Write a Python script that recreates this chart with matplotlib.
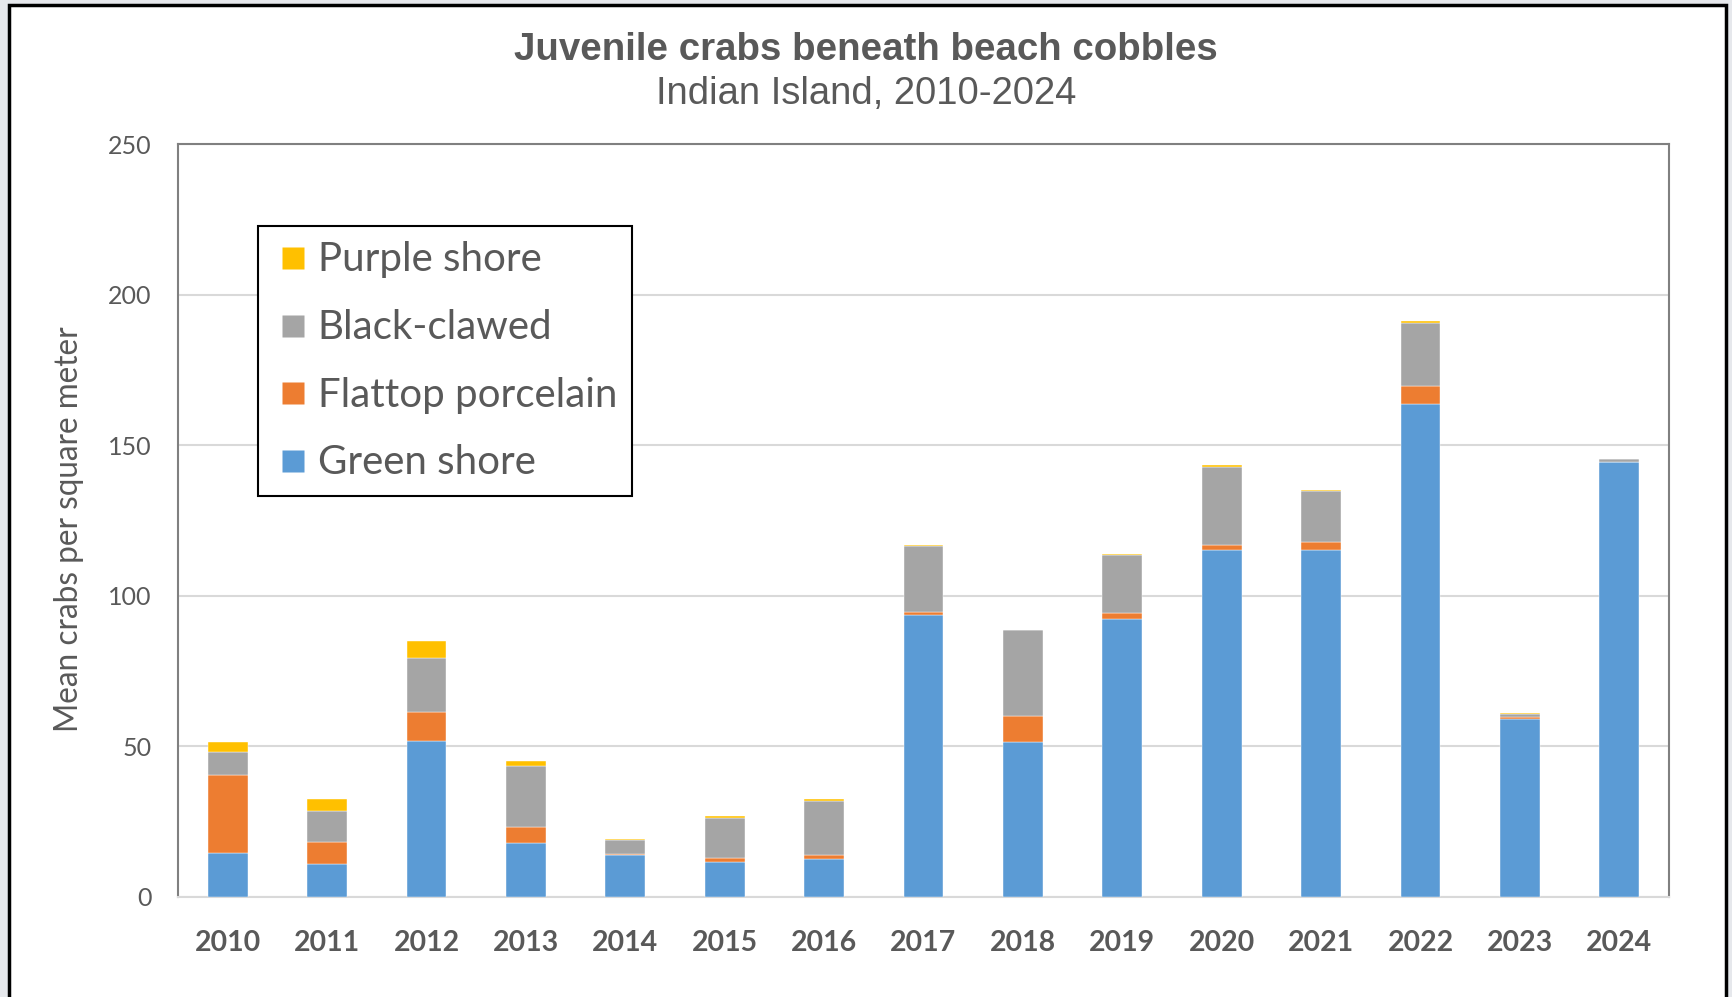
import matplotlib
matplotlib.use("Agg")
import matplotlib.pyplot as plt
from matplotlib.patches import Rectangle
from matplotlib.lines import Line2D
import numpy as np

years = ["2010", "2011", "2012", "2013", "2014", "2015", "2016", "2017",
         "2018", "2019", "2020", "2021", "2022", "2023", "2024"]
green_shore = [14.5, 11.0, 51.8, 18.0, 14.0, 11.7, 12.7, 93.5, 51.3, 92.3, 115.3, 115.3, 163.7, 59.2, 144.3]
flattop_porcelain = [26.0, 7.3, 9.7, 5.4, 0.4, 1.2, 1.3, 1.2, 8.8, 2.1, 1.7, 2.4, 6.0, 0.7, 0.1]
black_clawed = [7.5, 10.2, 18.0, 20.2, 4.4, 13.2, 17.9, 21.7, 28.4, 19.0, 25.9, 17.1, 20.9, 1.0, 0.9]
purple_shore = [3.3, 4.2, 5.4, 1.5, 0.6, 0.8, 0.5, 0.5, 0.3, 0.4, 0.4, 0.3, 0.7, 0.1, 0.1]

series = [("Green shore", green_shore, "#5B9BD5"),
          ("Flattop porcelain", flattop_porcelain, "#ED7D31"),
          ("Black-clawed", black_clawed, "#A5A5A5"),
          ("Purple shore", purple_shore, "#FFC000")]

TXT = "#595959"
W, H = 1733, 997
fig = plt.figure(figsize=(W / 100, H / 100), dpi=100)
fig.patch.set_facecolor("#e6e8ec")
# white chart panel with black frame
panel = Rectangle((9 / W, -0.05), (1726 - 9) / W, 1.05 - 5.5 / H,
                  transform=fig.transFigure, facecolor="white",
                  edgecolor="black", linewidth=2.5, zorder=-10)
fig.add_artist(panel)

ax = fig.add_axes([178 / W, 1 - 897 / H, (1669 - 178) / W, (897 - 144) / H])
ax.set_zorder(1)
x = np.arange(len(years))
bottom = np.zeros(len(years))
for name, vals, col in series:
    v = np.array(vals)
    ax.bar(x, v, width=0.4, bottom=bottom, color=col, label=name, zorder=3,
           edgecolor="white", linewidth=0.3)
    bottom += v

ax.set_xlim(-0.5, len(years) - 0.5)
ax.set_ylim(0, 250)
ax.set_yticks([0, 50, 100, 150, 200, 250])
ax.grid(axis="y", color="#d9d9d9", linewidth=1.5, zorder=0)
ax.set_axisbelow(True)
for s in ["left", "right", "top"]:
    ax.spines[s].set_color("#808080")
    ax.spines[s].set_linewidth(1.5)
ax.spines["bottom"].set_color("#d9d9d9")
ax.spines["bottom"].set_linewidth(1.5)
ax.tick_params(axis="both", length=0)
ax.tick_params(axis="y", pad=19, labelsize=18, labelcolor=TXT)
ax.tick_params(axis="x", pad=24, labelsize=20.5, labelcolor=TXT)
ax.set_xticks(x)
ax.set_xticklabels(years, fontweight="bold", family="Lato")
for t in ax.get_yticklabels():
    t.set_family("Lato")

ax.set_ylabel("Mean crabs per square meter", fontsize=22.7, color=TXT, family="Lato",
              labelpad=0)
ax.yaxis.set_label_coords((84 - 178) / (1669 - 178), 0.489)

fig.text(866 / W, 1 - 50 / H, "Juvenile crabs beneath beach cobbles", ha="center",
         va="center", fontsize=27.7, fontweight="bold", color=TXT, family="Liberation Sans")
fig.text(866 / W, 1 - 94 / H, "Indian Island, 2010-2024", ha="center",
         va="center", fontsize=27.5, color=TXT, family="Liberation Sans")

handles = [Line2D([], [], linestyle="none", marker="s", markersize=16,
                  markerfacecolor=c, markeredgecolor="none") for _, _, c in series][::-1]
labels = [n for n, _, _ in series][::-1]
leg = ax.legend(handles, labels, loc="upper left",
                bbox_to_anchor=((258 - 178) / 1491, (897 - 226) / 753),
                fancybox=False, frameon=True, edgecolor="black", framealpha=1,
                prop={"family": "Lato", "size": 29}, labelcolor=TXT,
                handlelength=1.0, handleheight=0.58, handletextpad=0.1,
                labelspacing=0.76, borderpad=0.38, borderaxespad=0)
leg.get_frame().set_linewidth(1.5)
leg.set_zorder(5)

fig.savefig("out.png", dpi=100, facecolor=fig.get_facecolor())
